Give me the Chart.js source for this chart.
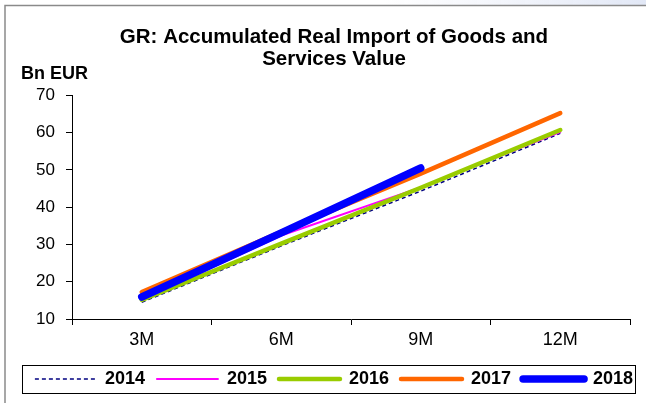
<!DOCTYPE html>
<html>
<head>
<meta charset="utf-8">
<script src="https://cdn.jsdelivr.net/npm/chart.js@4"></script>
<style>
  html, body { margin: 0; padding: 0; background: #fff; }
  #wrap { width: 646px; height: 403px; position: relative; }
</style>
</head>
<body>
<div id="wrap"><canvas id="imports"></canvas></div>
<script>
const periods = ['3M', '6M', '9M', '12M'];
const years = ['2014', '2015', '2016', '2017', '2018'];
const v2014 = [14.5, 29.6, 44.3, 59.8];
const v2015 = [15.2, 32.4, 45.3, 60.1];
const v2016 = [15.1, 30.2, 45.2, 60.7];
const v2017 = [17.2, 33.4, 49.0, 65.2];
const v2018 = [15.9, 33.1, 50.5, null];
const yTicks = [10, 20, 30, 40, 50, 60, 70];

const FONT = "'Liberation Sans', Arial, sans-serif";

// series look: colour, width, dash
const SERIES = [
  { data: v2014, color: '#000080', width: 1.5, dash: [4, 3] },
  { data: v2015, color: '#ff00ff', width: 2 },
  { data: v2016, color: '#99cc00', width: 4.5 },
  { data: v2017, color: '#ff6600', width: 4.5 },
  { data: v2018, color: '#0000ff', width: 7.5 }
];

// outer frame, unit label and the legend border
const decorations = {
  id: 'decorations',
  beforeDraw(chart) {
    const ctx = chart.ctx;
    ctx.save();
    const g = ctx.createLinearGradient(380, 0, 646, 0);
    g.addColorStop(0, 'rgba(232,236,248,0)');
    g.addColorStop(1, 'rgba(226,232,246,1)');
    ctx.fillStyle = g;
    ctx.fillRect(0, 0, 646, 5);
    ctx.strokeStyle = '#8a8a8a';
    ctx.lineWidth = 1.5;
    ctx.beginPath();
    ctx.moveTo(5, 403);
    ctx.lineTo(5, 5.5);
    ctx.lineTo(646, 5.5);
    ctx.stroke();
    ctx.restore();
  },
  afterDraw(chart) {
    const ctx = chart.ctx;
    ctx.save();
    ctx.fillStyle = '#000';
    ctx.font = 'bold 18px ' + FONT;
    ctx.textBaseline = 'middle';
    ctx.fillText('Bn EUR', 21, 74);

    const boxes = chart.legend.legendHitBoxes;
    if (boxes && boxes.length) {
      const first = boxes[0];
      const last = boxes[boxes.length - 1];
      const cy = first.top + first.height / 2;
      ctx.strokeStyle = '#000';
      ctx.lineWidth = 1;
      ctx.strokeRect(Math.round(first.left - 13) + 0.5, Math.round(cy - 14) + 0.5,
        Math.round(last.left + last.width - first.left + 15), 28);
    }
    ctx.restore();
  }
};

// legend entries keep each series' own dash and width
function legendLabels(chart) {
  const items = Chart.defaults.plugins.legend.labels.generateLabels(chart);
  return items.map(item => {
    const s = SERIES[item.datasetIndex];
    item.lineDash = s.dash || [];
    item.lineWidth = s.width;
    item.strokeStyle = s.color;
    item.lineCap = s.dash ? 'butt' : 'round';
    return item;
  });
}

new Chart(document.getElementById('imports'), {
  type: 'line',
  data: {
    labels: periods,
    datasets: SERIES.map((s, i) => ({
      label: years[i],
      data: s.data,
      borderColor: s.color,
      backgroundColor: s.color,
      borderWidth: s.width,
      borderDash: s.dash || [],
      borderCapStyle: s.dash ? 'butt' : 'round',
      pointRadius: 0,
      tension: 0,
      fill: false,
      order: SERIES.length - i
    }))
  },
  options: {
    responsive: true,
    maintainAspectRatio: false,
    animation: false,
    layout: { padding: { top: 26, left: 22, right: 0, bottom: 5 } },
    plugins: {
      tooltip: { enabled: false },
      title: {
        display: true,
        text: ['GR: Accumulated Real Import of Goods and', 'Services Value'],
        color: '#000',
        font: { family: FONT, size: 20.5, weight: 'bold', lineHeight: 1.08 },
        padding: { top: 0, bottom: 25 }
      },
      legend: {
        position: 'bottom',
        labels: {
          color: '#000',
          font: { family: FONT, size: 18, weight: 'bold' },
          usePointStyle: true,
          pointStyle: 'line',
          pointStyleWidth: 61,
          padding: 12,
          generateLabels: legendLabels,
          sort: (a, b) => a.datasetIndex - b.datasetIndex
        }
      }
    },
    scales: {
      x: {
        offset: true,
        grid: { display: true, drawOnChartArea: false, offset: true, color: '#000', tickLength: 6 },
        border: { display: true, color: '#000', width: 1 },
        ticks: { color: '#000', font: { family: FONT, size: 18 }, padding: 4, maxRotation: 0 },
        afterFit: s => { s.height = 39; }
      },
      y: {
        min: 10,
        max: 70,
        afterBuildTicks: s => { s.ticks = yTicks.map(v => ({ value: v })); },
        grid: { display: true, drawOnChartArea: false, color: '#000', tickLength: 6 },
        border: { display: true, color: '#000', width: 1 },
        ticks: { color: '#000', font: { family: FONT, size: 17 }, padding: 11 },
        afterFit: s => { s.width = 50; }
      },
      spacer: {
        position: 'right',
        display: true,
        grid: { display: false },
        border: { display: false },
        ticks: { display: false },
        afterFit: s => { s.width = 16; }
      }
    }
  },
  plugins: [decorations]
});
</script>
</body>
</html>
